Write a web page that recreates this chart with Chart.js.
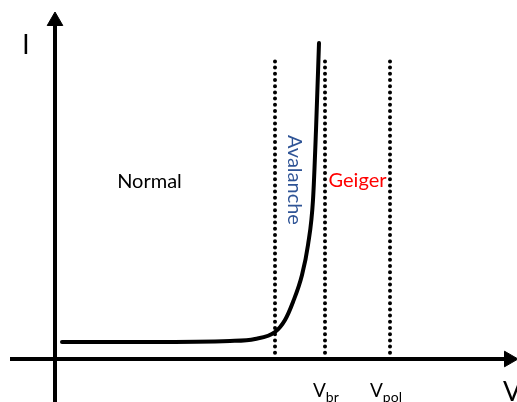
<!DOCTYPE html>
<html>
<head>
<meta charset="utf-8">
<script src="https://cdn.jsdelivr.net/npm/chart.js@4"></script>
<style>
  html, body { margin: 0; padding: 0; background: #fff; }
  #wrap { width: 517px; height: 402px; position: relative; }
</style>
</head>
<body>
<div id="wrap"><canvas id="ivChart"></canvas></div>
<script>
// I-V curve of an avalanche photodiode (arbitrary units)
const voltage = [0.7, 9.5, 17.5, 20.0, 22.0, 23.0, 23.8, 24.7, 25.3, 25.8, 26.1, 26.4];
const current = [1.7, 1.7, 1.8, 2.0, 2.7, 3.9, 5.7, 8.4, 11.4, 15.9, 22.9, 31.6];

// region boundaries: avalanche start, V_br, V_pol
const markers = [22, 27, 33.5];
const markerTop = 29.9;

// axis extents
const xAxisLine = [-4.5, 45.4];
const yAxisLine = [-4.3, 33.8];

const arrowHead = ctx => ctx.dataIndex === 1 ? 9 : 0;

// text annotations drawn on top
const annotations = {
  id: 'annotations',
  afterDraw(chart) {
    const c = chart.ctx;
    const sx = chart.scales.x, sy = chart.scales.y;
    const px = v => sx.getPixelForValue(v);
    const py = v => sy.getPixelForValue(v);
    c.save();
    c.fillStyle = '#000';
    c.textBaseline = 'alphabetic';

    c.font = '26px Lato';
    c.textAlign = 'center';
    c.fillText('I', px(-2.9), py(30.5));

    c.font = '20px Lato';
    c.fillText('Normal', px(9.45), py(17.1));

    c.fillStyle = '#ff0000';
    c.fillText('Geiger', px(30.25), py(17.2));

    c.save();
    c.fillStyle = '#2f5496';
    c.translate(px(23.3), py(17.9));
    c.rotate(Math.PI / 2);
    c.fillText('Avalanche', 0, 0);
    c.restore();

    // V_br, V_pol, V
    c.fillStyle = '#000';
    c.textAlign = 'left';
    const sub = (main, s, x, y) => {
      c.font = '19px Lato';
      c.fillText(main, x, y);
      const w = c.measureText(main).width;
      c.font = '14px Lato';
      c.fillText(s, x + w, y + 5);
    };
    sub('V', 'br', px(25.8), py(-3.8));
    sub('V', 'pol', px(31.5), py(-3.8));

    c.font = '27px Lato';
    c.fillText('V', px(44.8), py(-4.2));
    c.restore();
  }
};

const markerSets = markers.map(m => ({
  data: [{x: m, y: 0}, {x: m, y: markerTop}],
  showLine: true,
  borderColor: '#000',
  borderWidth: 4,
  borderDash: [0, 6.2],
  borderCapStyle: 'round',
  pointRadius: 0,
}));

new Chart(document.getElementById('ivChart'), {
  type: 'scatter',
  data: {
    datasets: [
      {
        data: voltage.map((v, i) => ({x: v, y: current[i]})),
        showLine: true,
        borderColor: '#000',
        borderWidth: 4,
        borderCapStyle: 'round',
        cubicInterpolationMode: 'monotone',
        pointRadius: 0,
      },
      ...markerSets,
      {
        // horizontal axis
        data: [{x: xAxisLine[0], y: 0}, {x: xAxisLine[1], y: 0}],
        showLine: true,
        borderColor: '#000',
        borderWidth: 4,
        pointStyle: 'triangle',
        pointRotation: 90,
        pointRadius: arrowHead,
        pointBackgroundColor: '#000',
        pointBorderColor: '#000',
        pointBorderWidth: 1,
      },
      {
        // vertical axis
        data: [{x: 0, y: yAxisLine[0]}, {x: 0, y: yAxisLine[1]}],
        showLine: true,
        borderColor: '#000',
        borderWidth: 4,
        pointStyle: 'triangle',
        pointRotation: 0,
        pointRadius: arrowHead,
        pointBackgroundColor: '#000',
        pointBorderColor: '#000',
        pointBorderWidth: 1,
      }
    ]
  },
  options: {
    responsive: true,
    maintainAspectRatio: false,
    animation: false,
    layout: { padding: 0, autoPadding: false },
    plugins: { legend: { display: false }, tooltip: { enabled: false } },
    scales: {
      x: { type: 'linear', display: false, min: -5.5, max: 46.2 },
      y: { type: 'linear', display: false, min: -4.3, max: 35.9 }
    }
  },
  plugins: [annotations]
});
</script>
</body>
</html>
